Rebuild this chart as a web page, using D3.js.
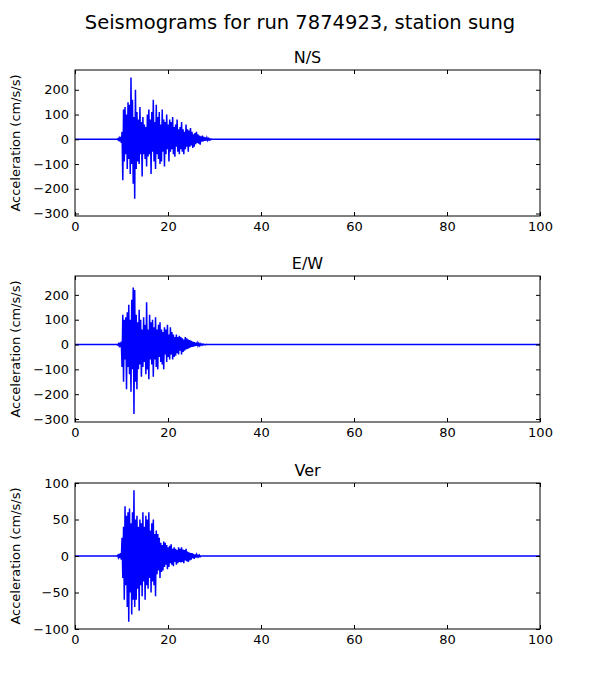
<!DOCTYPE html>
<html>
<head>
<meta charset="utf-8">
<script src="https://d3js.org/d3.v7.min.js"></script>
<style>
  body { margin: 0; background: #fff; }
  text { font-family: "DejaVu Sans", sans-serif; }
  .tick text { font-size: 13px; }
</style>
</head>
<body>
<div id="chart"></div>
<script>
// samples start at t0 seconds, spaced dt seconds; before/after are zero
var t0 = 9.0, dt = 0.16;
var ns = [0,2,-3,5,-8,10,-15,
  30,-165,120,-90,130,-60,100,-120,150,-80,140,-140,250,-100,160,-180,90,-240,200,-120,110,-90,80,-100,130,-60,70,-150,90,-60,
  60,-80,50,-110,100,-70,120,-60,80,-140,110,-50,160,-90,70,-120,140,-60,90,-80,110,-100,
  60,-90,120,-50,80,-110,70,-60,100,-40,60,-90,80,-50,70,-40,90,-60,50,-70,60,-30,80,-50,40,-60,
  50,-40,70,-50,40,-60,30,-40,60,-30,40,-50,35,-30,45,-25,30,-35,20,-30,25,-20,30,-15,
  20,-18,15,-22,12,-10,15,-8,10,-6,8,-5,6,-4,3,-3,2,-2,1,0];
var ew = [0,-2,3,-5,8,-10,12,
  -90,120,-150,100,-60,110,-180,130,-90,160,-120,100,-190,180,-100,230,-280,220,-150,120,-180,90,-100,140,-80,100,-130,60,-90,
  110,-70,80,-120,170,-100,60,-140,120,-60,90,-80,100,-130,70,-60,110,-90,60,-100,80,-50,
  90,-70,60,-80,50,-100,70,-40,60,-70,80,-50,40,-60,70,-40,50,-60,40,-50,30,-45,40,-35,30,-40,
  35,-25,30,-40,25,-30,20,-25,30,-20,25,-18,20,-15,18,-12,15,-10,12,-8,10,-6,8,-5,
  6,-5,4,-4,3,-3,2,-2,2,-1,1,-1,1,0,0,0,0,0,0,0];
var ve = [0,1,-2,3,-3,4,-5,
  25,-30,40,-60,68,-40,55,-70,60,-90,65,-50,45,-80,60,-60,90,-70,50,-60,55,-45,40,-75,50,-40,45,-55,60,-35,
  40,-60,55,-40,50,-45,60,-30,35,-50,45,-35,50,-40,30,-55,35,-25,30,-20,25,-30,
  18,-22,15,-20,20,-15,18,-12,15,-18,12,-15,14,-10,16,-12,10,-14,12,-8,10,-12,8,-10,12,-8,
  10,-9,12,-8,9,-10,8,-6,10,-7,6,-8,5,-6,4,-5,4,-3,3,-4,2,-2,2,-1,
  1,-1,1,-1,0,0,0,0,0,0,0,0,0,0,0,0,0,0,0,0];
var channels = ["N/S", "E/W", "Ver"];
var series = [ns, ew, ve];
var yDomains = [[-310, 280], [-312, 276], [-100, 100]];
var yTicks = [[-300,-200,-100,0,100,200], [-300,-200,-100,0,100,200], [-100,-50,0,50,100]];
var xTicks = [0, 20, 40, 60, 80, 100];

var W = 600, H = 700;
var svg = d3.select("#chart").append("svg").attr("width", W).attr("height", H);
svg.append("text").attr("x", 300).attr("y", 29).attr("text-anchor", "middle")
  .style("font-size", "19.5px").text("Seismograms for run 7874923, station sung");

var left = 75, right = 540, tops = [70, 276, 483], ph = 146;
var x = d3.scaleLinear().domain([0, 100]).range([left, right]);

series.forEach(function (vals, k) {
  var top = tops[k];
  var y = d3.scaleLinear().domain(yDomains[k]).range([top + ph, top]);
  var pts = [[0, 0]];
  vals.forEach(function (v, i) { pts.push([t0 + i * dt, v]); });
  pts.push([100, 0]);
  var g = svg.append("g");
  g.append("path").datum(pts)
    .attr("fill", "none").attr("stroke", "#0000ff").attr("stroke-width", 1.5)
    .attr("d", d3.line().x(function (d) { return x(d[0]); }).y(function (d) { return y(d[1]); }));
  g.append("g").attr("transform", "translate(0," + (top + ph) + ")")
    .call(d3.axisBottom(x).tickValues(xTicks).tickSizeInner(-4).tickSizeOuter(0).tickPadding(6));
  g.append("g").attr("transform", "translate(0," + top + ")")
    .call(d3.axisTop(x).tickValues(xTicks).tickSizeInner(-4).tickSizeOuter(0).tickFormat(""));
  g.append("g").attr("transform", "translate(" + left + ",0)")
    .call(d3.axisLeft(y).tickValues(yTicks[k]).tickSizeInner(-4).tickSizeOuter(0).tickPadding(6));
  g.append("g").attr("transform", "translate(" + right + ",0)")
    .call(d3.axisRight(y).tickValues(yTicks[k]).tickSizeInner(-4).tickSizeOuter(0).tickFormat(""));
  g.append("rect").attr("x", left).attr("y", top).attr("width", right - left).attr("height", ph)
    .attr("fill", "none").attr("stroke", "#000");
  g.selectAll(".domain").remove();
  g.selectAll(".tick text").attr("fill", "#000");
  g.append("text").attr("x", (left + right) / 2).attr("y", top - 7).attr("text-anchor", "middle")
    .style("font-size", "16px").text(channels[k]);
  g.append("text").attr("transform", "translate(20," + (top + ph / 2) + ") rotate(-90)")
    .attr("text-anchor", "middle").style("font-size", "13px").text("Acceleration (cm/s/s)");
});
</script>
</body>
</html>
